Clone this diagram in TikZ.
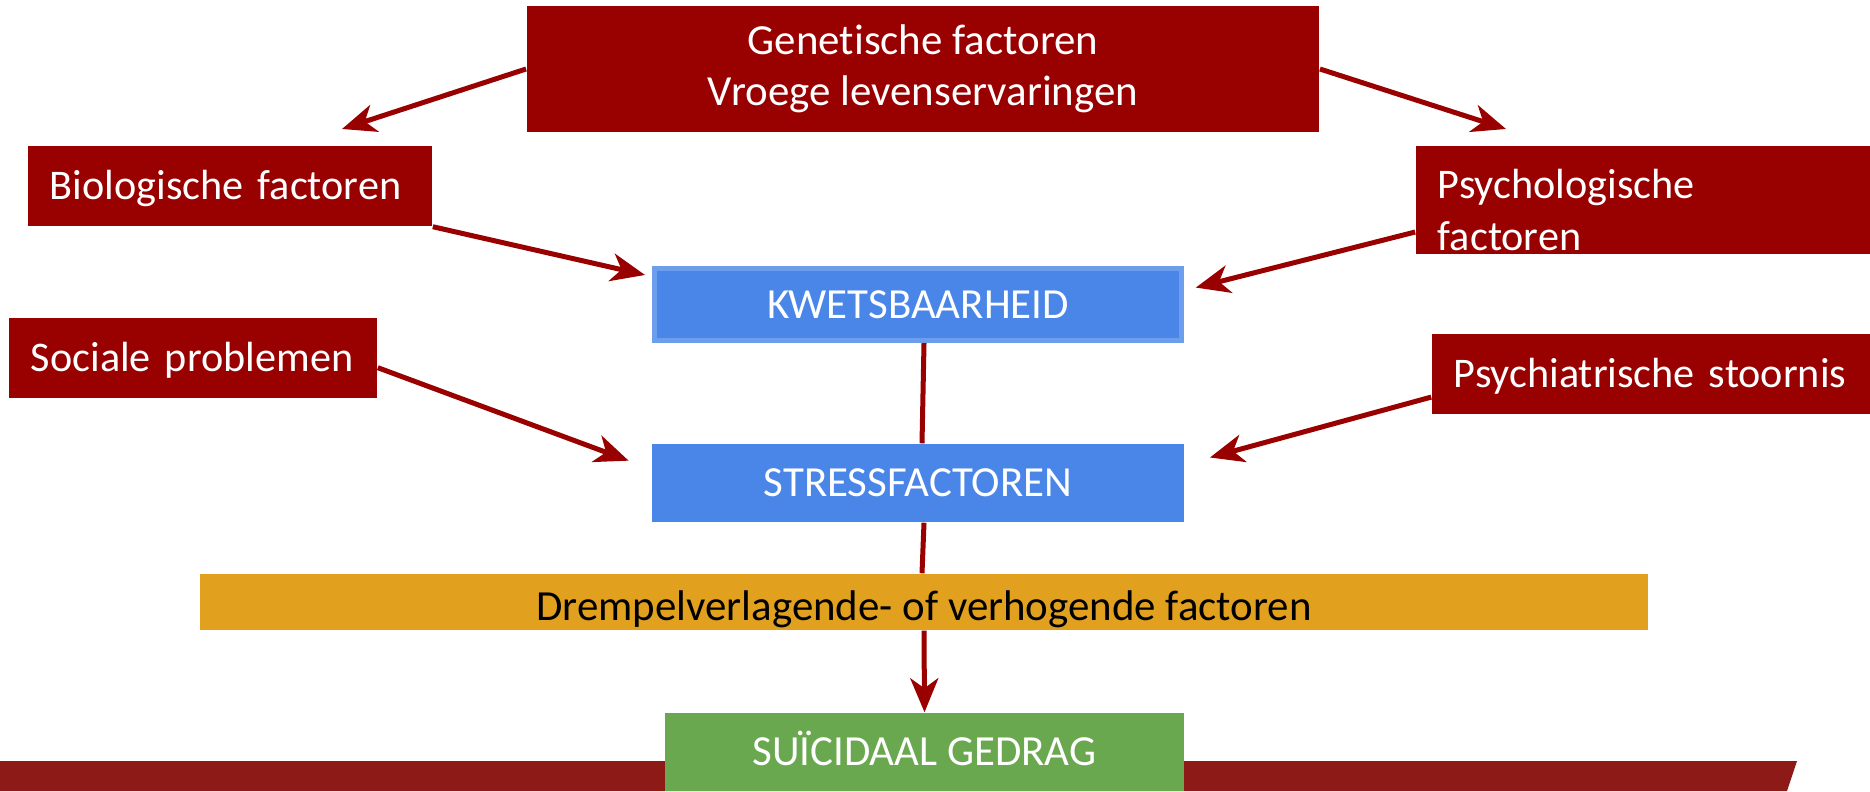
\documentclass[tikz,border=0pt]{standalone}
\usepackage{fontspec}
\setmainfont{Carlito}[Ligatures=NoCommon]
\usetikzlibrary{arrows.meta}
\definecolor{donkerrood}{HTML}{990000}
\definecolor{blauw}{HTML}{4A86E8}
\definecolor{lichtblauw}{HTML}{6D9EEB}
\definecolor{oranje}{HTML}{E2A01F}
\definecolor{groen}{HTML}{6AA84F}
\definecolor{bandrood}{HTML}{8E1A18}

\begin{document}
\begin{tikzpicture}[x=0.01cm, y=-0.01cm,
  font=\fontsize{12.2}{14.5}\selectfont,
  rood/.style={fill=donkerrood, text=white, inner xsep=0.22cm, inner ysep=0pt, align=left},
  eenregel/.style={text height=0.27cm, text depth=0pt},
  blauwvak/.style={fill=blauw, text=white, inner sep=0pt, eenregel},
  pijl/.style={donkerrood, line width=0.05cm, -{Stealth[length=0.34cm, width=0.28cm, inset=0.1cm]}},
  lijn/.style={donkerrood, line width=0.05cm}]
  \useasboundingbox (0,0) rectangle (1870,791);

  % band onderaan
  \fill[bandrood] (0,761) -- (1797,761) -- (1787,791) -- (0,791) -- cycle;

  % factoren
  \node[rood, align=center, minimum width=7.92cm, minimum height=1.26cm] (gen) at (923,69)
    {Genetische factoren\\Vroege levenservaringen};
  \node[rood, eenregel, font=\fontsize{12}{14}\selectfont, text width=3.60cm, minimum height=0.80cm] (bio) at (230,186) {Biologische factoren};
  \node[rood, font=\fontsize{12}{14}\selectfont, text width=4.10cm, minimum height=1.08cm] (psy) at (1643,200)
    {\rule{0pt}{13.9pt}Psychologische\\[0.8pt]factoren};
  \node[rood, eenregel, font=\fontsize{12}{14}\selectfont, text width=3.24cm, minimum height=0.80cm] (soc) at (193,358) {Sociale problemen};
  \node[rood, eenregel, font=\fontsize{12}{14}\selectfont, text width=3.94cm, minimum height=0.80cm] (psych) at (1651,374) {Psychiatrische stoornis};

  % kern
  \node[blauwvak, draw=lichtblauw, line width=0.05cm, minimum width=5.27cm, minimum height=0.72cm] (kwets) at (918,304.5) {KWETSBAARHEID};
  \node[blauwvak, minimum width=5.32cm, minimum height=0.78cm] (stress) at (918,483) {STRESSFACTOREN};
  \node[fill=oranje, inner sep=0pt, text height=0.37cm, text depth=0pt, minimum width=14.48cm, minimum height=0.56cm] (drempel) at (924,602)
    {Drempelverlagende- of verhogende factoren};
  \node[fill=groen, text=white, inner sep=0pt, eenregel, minimum width=5.19cm, minimum height=0.78cm] (gedrag) at (924.5,752) {SUÏCIDAAL GEDRAG};

  \coordinate (biopunt) at (342,129);
  \coordinate (psypunt) at (1506,129);

  \draw[pijl] (gen.west) -- (biopunt);
  \draw[pijl] (gen.east) -- (psypunt);
  \draw[pijl, shorten >=0.07cm] (bio.south east) -- (kwets.174);
  \draw[pijl, shorten >=0.12cm] (psy.188.5) -- (kwets.3);
  \draw[pijl, shorten >=0.24cm] (soc.-3) -- (stress.177);
  \draw[pijl, shorten >=0.26cm] (psych.186.5) -- (stress.4);
  \draw[lijn] ([xshift=0.06cm]kwets.south) -- ([xshift=0.04cm]stress.north);
  \draw[lijn] ([xshift=0.06cm]stress.south) -- ([xshift=-0.02cm]drempel.north);
  \draw[pijl] (drempel.south) -- (gedrag.north);
\end{tikzpicture}
\end{document}
